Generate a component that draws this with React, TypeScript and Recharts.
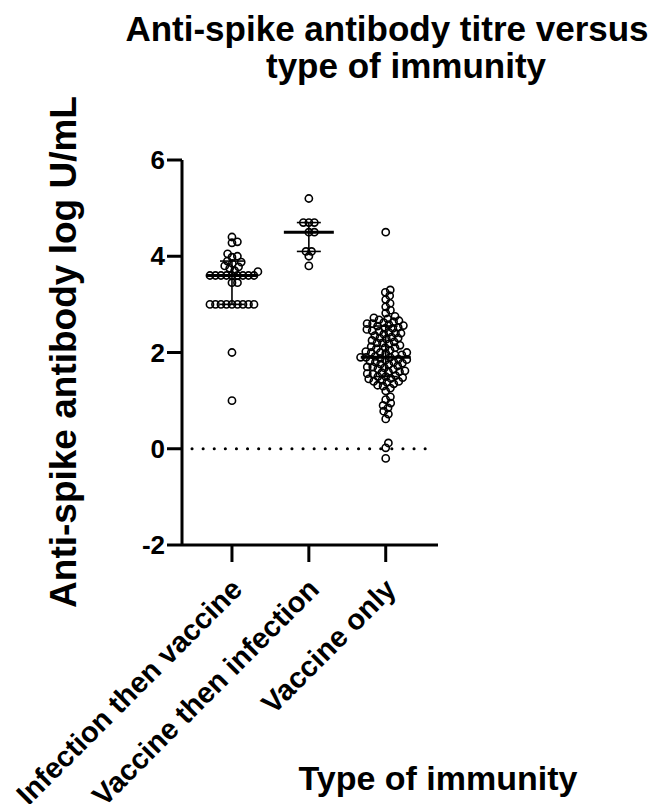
import {
  ReferenceLine,
  Scatter,
  ScatterChart,
  XAxis,
  YAxis,
} from "recharts";

const categories = [
  "Infection then vaccine",
  "Vaccine then infection",
  "Vaccine only",
];

const infectionThenVaccine = [
  4.4, 4.3, 4.28, 4.05, 4.0, 3.98, 3.9, 3.88, 3.85, 3.8, 3.78, 3.75, 3.7,
  3.68, 3.6, 3.6, 3.6, 3.6, 3.6, 3.6, 3.6, 3.6, 3.6, 3.45, 3.45, 3.0, 3.0,
  3.0, 3.0, 3.0, 3.0, 3.0, 3.0, 3.0, 2.0, 1.0,
];

const vaccineThenInfection = [5.2, 4.7, 4.7, 4.7, 4.5, 4.5, 4.1, 4.1, 4.0, 3.8];

const vaccineOnly = [
  4.5, 3.3, 3.25, 3.18, 3.1, 3.02, 2.95, 2.88, 2.82, 2.75, 2.72, 2.7, 2.68,
  2.66, 2.64, 2.62, 2.6, 2.6, 2.58, 2.56, 2.55, 2.52, 2.5, 2.5, 2.48, 2.45,
  2.44, 2.42, 2.4, 2.4, 2.38, 2.35, 2.32, 2.3, 2.3, 2.28, 2.25, 2.22, 2.2,
  2.2, 2.18, 2.15, 2.12, 2.1, 2.1, 2.08, 2.05, 2.02, 2.0, 2.0, 2.0, 1.98,
  1.95, 1.95, 1.92, 1.9, 1.9, 1.9, 1.88, 1.86, 1.85, 1.84, 1.82, 1.8, 1.8,
  1.78, 1.76, 1.75, 1.72, 1.7, 1.7, 1.68, 1.66, 1.65, 1.62, 1.6, 1.6, 1.58,
  1.56, 1.55, 1.52, 1.5, 1.5, 1.48, 1.46, 1.45, 1.42, 1.4, 1.4, 1.38, 1.35,
  1.32, 1.3, 1.26, 1.2, 1.08, 1.02, 0.95, 0.9, 0.85, 0.78, 0.72, 0.62, 0.12,
  0.02, -0.2,
];

// median and interquartile range per group
const medians = [3.6, 4.5, 1.9];
const lowerQ = [3.0, 4.1, 1.5];
const upperQ = [3.9, 4.7, 2.55];

const yTicks = [-2, 0, 2, 4, 6];

const X_DOMAIN: [number, number] = [0.35, 3.68];
const Y_DOMAIN: [number, number] = [-2, 6];
const PLOT_W = 256;
const PLOT_H = 385;
const X_PX = PLOT_W / (X_DOMAIN[1] - X_DOMAIN[0]);
const Y_PX = PLOT_H / (Y_DOMAIN[1] - Y_DOMAIN[0]);
const MIN_D = 5.5;

// simple deterministic beeswarm: each point goes to the free spot nearest the centre
function swarm(values: number[], cat: number) {
  const placed: { x: number; y: number }[] = [];
  const out: { x: number; y: number }[] = [];
  const sorted = [...values].sort((a, b) => a - b);
  for (const v of sorted) {
    const y = v * Y_PX;
    const near = placed.filter((p) => Math.abs(p.y - y) < MIN_D);
    const cands = [0];
    near.forEach((p) => {
      const dx = Math.sqrt(MIN_D * MIN_D - (p.y - y) ** 2);
      cands.push(p.x + dx, p.x - dx);
    });
    cands.sort((a, b) => Math.abs(a) - Math.abs(b) || b - a);
    const x =
      cands.find((c) =>
        near.every((p) => (p.x - c) ** 2 + (p.y - y) ** 2 >= MIN_D * MIN_D - 1e-6)
      ) ?? 0;
    placed.push({ x, y });
    out.push({ x: cat + x / X_PX, y: v });
  }
  return out;
}

const groups = [infectionThenVaccine, vaccineThenInfection, vaccineOnly].map(
  (vals, i) => swarm(vals, i + 1)
);

const font = "'Liberation Sans', Arial, sans-serif";

const OpenCircle = (props: any) => (
  <circle
    cx={props.cx}
    cy={props.cy}
    r={3.6}
    fill="none"
    stroke="#000"
    strokeWidth={1.6}
  />
);

const CategoryTick = ({ x, y, payload }: any) => {
  const tx = x + 12;
  const ty = y + 27;
  return (
    <text
      x={tx}
      y={ty}
      transform={`rotate(-45 ${tx} ${ty})`}
      textAnchor="end"
      fontFamily={font}
      fontWeight="bold"
      fontSize={29}
      fill="#000"
    >
      {categories[payload.value - 1]}
    </text>
  );
};

export default function App() {
  return (
    <div
      style={{
        position: "absolute",
        left: 0,
        top: 0,
        width: 667,
        height: 804,
        background: "#fff",
      }}
    >
      <ScatterChart
        width={667}
        height={804}
        margin={{ top: 160, right: 229, bottom: 219, left: 122 }}
      >
        <XAxis
          type="number"
          dataKey="x"
          domain={X_DOMAIN}
          ticks={[1, 2, 3]}
          tick={<CategoryTick />}
          tickSize={17}
          height={40}
          axisLine={{ stroke: "#000", strokeWidth: 3 }}
          tickLine={{ stroke: "#000", strokeWidth: 3 }}
          allowDataOverflow
        />
        <YAxis
          type="number"
          dataKey="y"
          domain={Y_DOMAIN}
          ticks={yTicks}
          width={60}
          tickSize={15}
          axisLine={{ stroke: "#000", strokeWidth: 3 }}
          tickLine={{ stroke: "#000", strokeWidth: 3 }}
          tick={{
            fill: "#000",
            fontSize: 26,
            fontWeight: "bold",
            fontFamily: font,
          }}
          allowDataOverflow
        />
        <ReferenceLine
          segment={[
            { x: 0.48, y: 0 },
            { x: 3.61, y: 0 },
          ]}
          stroke="#000"
          strokeWidth={3}
          strokeDasharray="0.1 11"
          strokeLinecap="round"
        />
        {groups.map((g, i) => (
          <Scatter
            key={categories[i]}
            data={g}
            shape={<OpenCircle />}
            isAnimationActive={false}
          />
        ))}
        {medians.map((m, i) => (
          <ReferenceLine
            key={"med" + i}
            segment={[
              { x: i + 1 - 0.325, y: m },
              { x: i + 1 + 0.325, y: m },
            ]}
            stroke="#000"
            strokeWidth={3}
          />
        ))}
        {medians.map((_, i) => (
          <ReferenceLine
            key={"iqr" + i}
            segment={[
              { x: i + 1, y: lowerQ[i] },
              { x: i + 1, y: upperQ[i] },
            ]}
            stroke="#000"
            strokeWidth={1.6}
          />
        ))}
        {medians.map((_, i) =>
          [lowerQ[i], upperQ[i]].map((q, j) => (
            <ReferenceLine
              key={"cap" + i + j}
              segment={[
                { x: i + 1 - 0.156, y: q },
                { x: i + 1 + 0.156, y: q },
              ]}
              stroke="#000"
              strokeWidth={1.6}
            />
          ))
        )}
      </ScatterChart>
      <svg
        width={667}
        height={804}
        style={{ position: "absolute", left: 0, top: 0, pointerEvents: "none" }}
      >
        <g fontFamily={font} fontWeight="bold" fill="#000">
          <text x={387} y={41} textAnchor="middle" fontSize={35}>
            Anti-spike antibody titre versus
          </text>
          <text x={406} y={78} textAnchor="middle" fontSize={35}>
            type of immunity
          </text>
          <text
            x={76}
            y={352}
            textAnchor="middle"
            fontSize={37}
            transform="rotate(-90 76 352)"
          >
            Anti-spike antibody log U/mL
          </text>
          <text x={438} y={790} textAnchor="middle" fontSize={34}>
            Type of immunity
          </text>
        </g>
      </svg>
    </div>
  );
}
